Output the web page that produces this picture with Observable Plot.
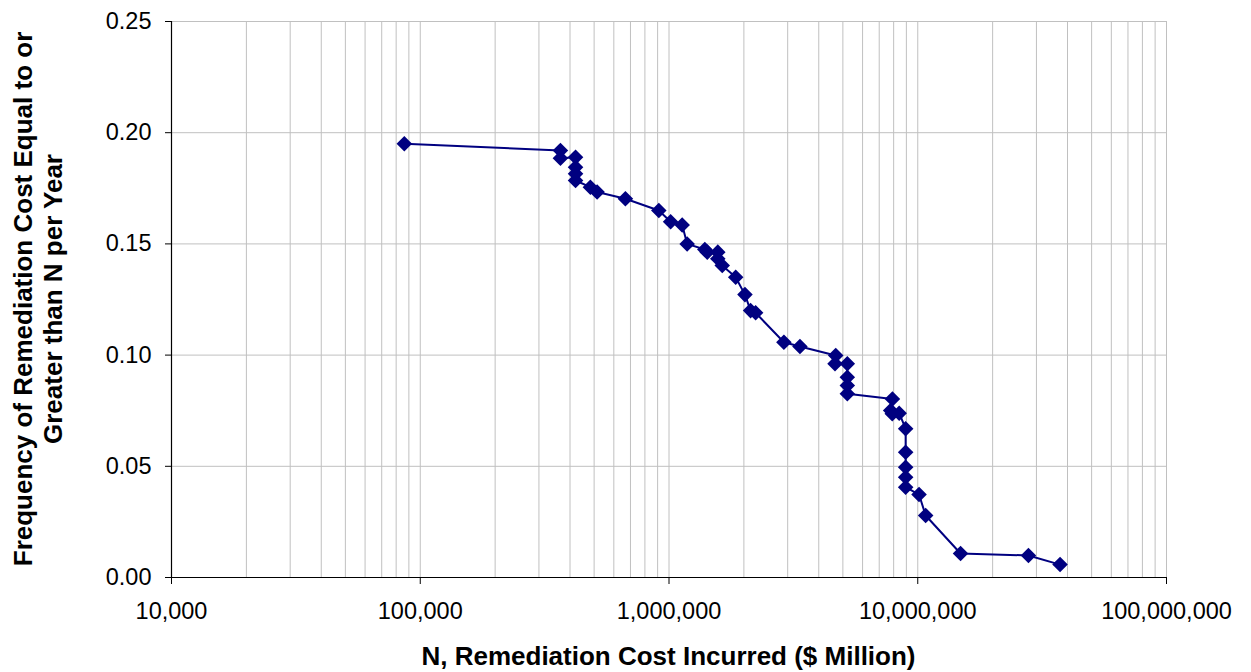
<!DOCTYPE html>
<html>
<head>
<meta charset="utf-8">
<script src="https://cdn.jsdelivr.net/npm/d3@7"></script>
<script src="https://cdn.jsdelivr.net/npm/@observablehq/plot@0.6"></script>
<style>
  html, body { margin: 0; padding: 0; background: #ffffff; }
  #chart { width: 1251px; height: 672px; }
</style>
</head>
<body>
<div id="chart"></div>
<script>
// N, Remediation Cost Incurred ($ Million)
const costN = [
  86300, 366000, 366000, 421000, 421000, 421000, 421000, 483000, 514000, 668000,
  910000, 1015000, 1130000, 1183000, 1393000, 1425000, 1571000, 1571000, 1637000, 1854000,
  2020000, 2128000, 2230000, 2897000, 3360000, 4680000, 4650000, 5210000, 5210000, 5210000,
  5210000, 7910000, 7780000, 7900000, 8420000, 8940000, 8940000, 8940000, 8940000, 8940000,
  10120000, 10760000, 14860000, 27860000, 37330000
];
// Frequency of remediation cost >= N per year
const frequency = [
  0.195, 0.192, 0.1885, 0.189, 0.1845, 0.1815, 0.1785, 0.1755, 0.1733, 0.1703,
  0.165, 0.160, 0.1585, 0.150, 0.1475, 0.1463, 0.1463, 0.1433, 0.1403, 0.135,
  0.1272, 0.120, 0.119, 0.1058, 0.1039, 0.0998, 0.0961, 0.0961, 0.090, 0.0863,
  0.0826, 0.0803, 0.0751, 0.0736, 0.0739, 0.0669, 0.0563, 0.0496, 0.0451, 0.0406,
  0.0373, 0.0279, 0.0108, 0.0099, 0.0058
];
const xTickValues = [1e4, 1e5, 1e6, 1e7, 1e8];
const yTickValues = [0, 0.05, 0.10, 0.15, 0.20, 0.25];
const xLabel = "N, Remediation Cost Incurred ($ Million)";
const yLabelLines = ["Frequency of Remediation Cost Equal to or", "Greater than N per Year"];

const data = costN.map((n, i) => ({n, f: frequency[i]}));
const xGrid = [];
for (const d of [1e4, 1e5, 1e6, 1e7]) for (let k = 2; k <= 10; k++) xGrid.push(k * d);

const navy = "#000080";
const grid = "#c0c0c0";

const chart = Plot.plot({
  width: 1251,
  height: 672,
  marginLeft: 171,
  marginRight: 85,
  marginTop: 21,
  marginBottom: 95,
  style: {fontFamily: "'Liberation Sans', Arial, sans-serif", fontSize: "23.5px", color: "#000", background: "#fff"},
  x: {type: "log", domain: [1e4, 1e8]},
  y: {domain: [0, 0.25]},
  marks: [
    Plot.ruleX(xGrid, {stroke: grid, strokeWidth: 1}),
    Plot.ruleY(yTickValues.slice(1), {stroke: grid, strokeWidth: 1}),
    Plot.axisX({ticks: xTickValues, tickFormat: d3.format(","), tickSize: 7, tickPadding: 18, label: null, stroke: "#000"}),
    Plot.axisY({ticks: yTickValues, tickFormat: d3.format(".2f"), tickSize: 6, tickPadding: 14, label: null, stroke: "#000"}),
    Plot.ruleX([1e4], {stroke: "#000", strokeWidth: 1.2}),
    Plot.ruleY([0], {stroke: "#000", strokeWidth: 1.2}),
    Plot.line(data, {x: "n", y: "f", stroke: navy, strokeWidth: 2}),
    Plot.dot(data, {x: "n", y: "f", symbol: "diamond2", r: 7, fill: navy, stroke: "none"})
  ]
});

const svg = d3.select(chart);
svg.append("text")
  .attr("x", (171 + 1166) / 2).attr("y", 665)
  .attr("text-anchor", "middle")
  .attr("font-weight", "bold").attr("font-size", "26px")
  .attr("fill", "#000")
  .text(xLabel);
const yl = svg.append("text")
  .attr("transform", `translate(32, ${(21 + 577) / 2}) rotate(-90)`)
  .attr("text-anchor", "middle")
  .attr("font-weight", "bold").attr("font-size", "26px")
  .attr("fill", "#000");
yLabelLines.forEach((t, i) => {
  yl.append("tspan").attr("x", 0).attr("dy", i === 0 ? 0 : 30).text(t);
});

document.getElementById("chart").appendChild(chart);
</script>
</body>
</html>
